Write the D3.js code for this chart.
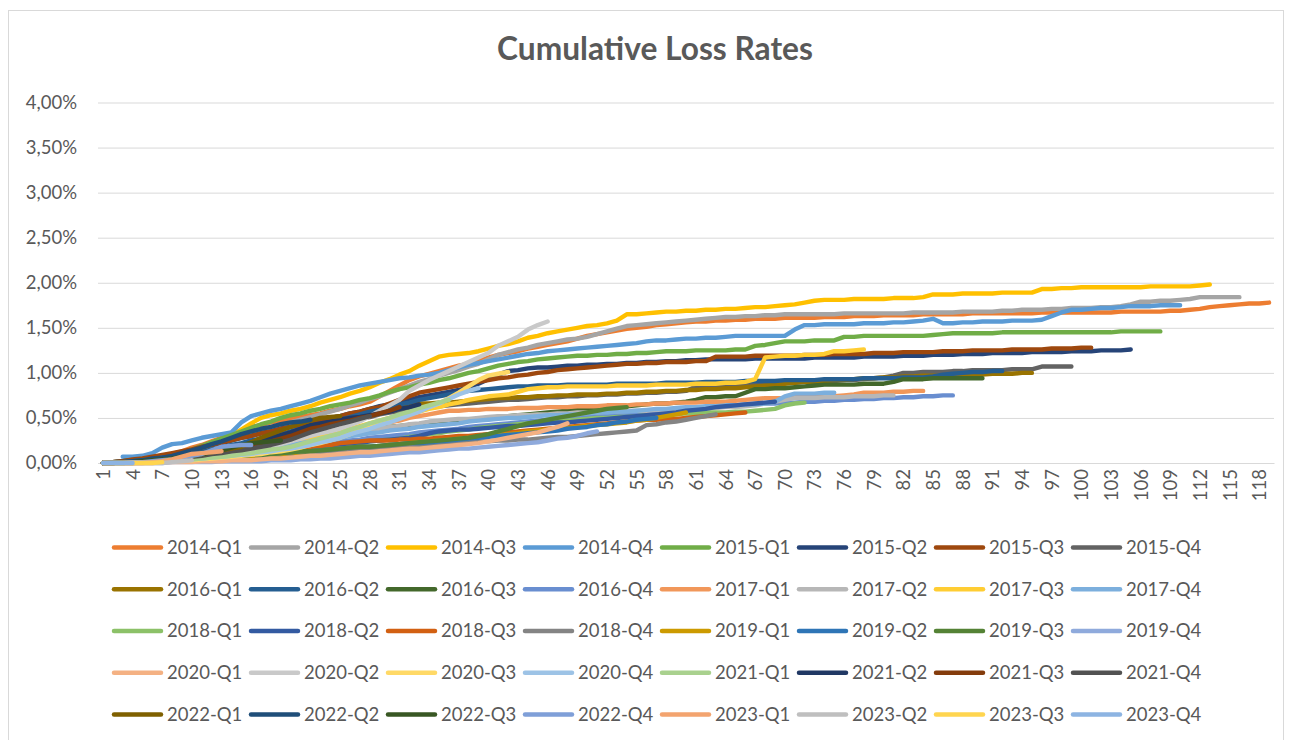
<!DOCTYPE html>
<html><head><meta charset="utf-8">
<script src="https://cdn.jsdelivr.net/npm/d3@7"></script>
<style>
body{margin:0;background:#fff;}
svg{display:block;font-family:Lato,"Open Sans",sans-serif;}
</style></head><body>
<svg id="chart" width="1289" height="740"></svg>
<script>
// ---------- DATA (values in basis points: 1 = 0.01 %) ----------
const categories = Array.from({length:119},(_,i)=>i+1);
const xTickLabels = categories.filter((c,i)=>i%3===0);
const yTicks = [0,0.005,0.01,0.015,0.02,0.025,0.03,0.035,0.04];
const seriesNames = ["2014-Q1","2014-Q2","2014-Q3","2014-Q4","2015-Q1","2015-Q2","2015-Q3","2015-Q4",
"2016-Q1","2016-Q2","2016-Q3","2016-Q4","2017-Q1","2017-Q2","2017-Q3","2017-Q4",
"2018-Q1","2018-Q2","2018-Q3","2018-Q4","2019-Q1","2019-Q2","2019-Q3","2019-Q4",
"2020-Q1","2020-Q2","2020-Q3","2020-Q4","2021-Q1","2021-Q2","2021-Q3","2021-Q4",
"2022-Q1","2022-Q2","2022-Q3","2022-Q4","2023-Q1","2023-Q2","2023-Q3","2023-Q4"];

const v2014Q1=[0,1,2,3,5,6,8,10,13,17,20,24,28,32,36,40,42,45,47,49,51,53,55,58,60,63,65,68,74,80,86,92,96,99,102,105,108,110,113,117,120,122,124,127,129,131,133,135,138,141,143,145,147,149,150,151,153,154,155,156,157,157,158,158,159,159,160,160,160,161,161,161,161,162,162,162,163,163,163,164,164,164,164,165,165,165,165,165,166,166,166,166,166,166,166,167,167,167,167,167,167,167,167,168,168,168,168,168,169,169,170,171,173,174,175,176,177,177,178];
const v2014Q2=[0,1,2,3,4,6,8,10,12,15,18,21,24,27,30,33,36,39,42,45,48,51,54,57,60,64,67,71,74,78,82,86,90,93,97,100,103,107,110,115,120,123,126,128,131,133,135,137,138,140,143,146,149,152,153,154,155,156,157,158,159,160,161,162,162,163,163,164,164,165,165,165,165,165,165,166,166,166,166,166,166,166,167,167,167,167,167,168,168,168,168,169,169,170,170,170,171,171,172,172,172,173,173,174,176,179,179,180,180,181,182,184,184,184,184,184];
const v2014Q3=[0,0,1,2,3,4,6,8,10,12,16,20,25,30,37,44,50,53,55,58,60,63,67,70,73,77,80,84,89,93,98,102,108,113,118,120,121,122,124,127,130,132,135,139,141,144,146,148,150,152,153,155,158,165,165,166,167,168,168,169,169,170,170,171,171,172,173,173,174,175,176,178,180,181,181,181,182,182,182,182,183,183,183,184,187,187,187,188,188,188,188,189,189,189,189,193,193,194,194,195,195,195,195,195,195,195,196,196,196,196,196,197,198];
const v2014Q4=[null,null,7,7,8,11,17,21,22,25,28,30,32,34,45,52,55,58,60,63,66,69,73,77,80,83,86,88,90,92,94,95,97,98,100,103,106,109,111,113,115,117,119,121,122,124,125,126,127,128,129,130,131,132,133,135,136,136,137,138,138,139,139,140,141,141,141,141,141,141,148,153,153,154,154,154,154,155,155,155,156,156,157,158,160,155,155,156,156,157,157,157,158,158,158,159,163,167,170,170,171,172,172,173,174,174,174,175,175,175];
const v2015Q1=[0,1,2,3,4,6,8,10,12,15,19,23,27,31,35,39,43,46,50,53,55,58,60,63,65,67,70,72,75,79,82,84,87,89,92,94,97,100,102,105,108,110,112,113,115,116,117,118,119,119,120,120,121,121,122,122,123,124,124,124,125,125,125,125,126,126,130,131,133,135,135,135,136,136,136,140,140,141,141,141,141,141,141,141,142,143,144,144,144,144,144,145,145,145,145,145,145,145,145,145,145,145,145,146,146,146,146,146];
const v2015Q2=[0,1,2,3,4,6,8,10,12,14,17,20,22,25,28,30,33,35,38,40,42,45,47,50,52,55,57,60,63,65,68,70,73,75,77,79,81,84,88,93,98,102,103,105,106,106,107,108,108,109,109,110,110,111,111,112,112,113,113,114,114,115,115,115,115,115,116,116,116,116,116,116,117,117,117,117,117,118,118,118,118,119,119,119,120,120,120,121,121,121,122,122,122,122,123,123,123,123,124,124,124,125,125,125,126];
const v2015Q3=[0,1,2,4,5,7,9,11,13,15,18,20,23,25,28,30,33,35,38,40,42,45,47,50,52,55,57,60,62,66,70,74,78,80,82,84,86,88,90,92,94,95,97,98,100,101,103,104,105,106,107,108,109,110,110,111,111,112,112,112,113,113,118,118,118,118,119,119,119,119,119,120,120,120,121,121,121,121,122,122,122,123,123,123,123,124,124,124,125,125,125,125,126,126,126,126,127,127,127,128,128];
const v2015Q4=[0,1,1,2,3,4,6,7,9,10,12,14,16,18,20,22,25,27,30,32,35,37,40,42,45,47,49,51,54,56,57,59,60,62,63,64,65,66,67,68,69,70,70,71,72,73,73,74,74,75,75,76,76,77,77,78,78,79,79,80,85,85,86,86,87,87,88,88,89,89,89,90,90,91,91,92,92,93,94,95,97,100,100,101,101,101,102,102,103,103,103,103,104,104,104,107,107,107,107];
const v2016Q1=[0,1,1,2,3,4,5,7,8,10,12,14,16,18,20,22,25,27,30,32,35,37,40,42,45,48,50,53,55,58,61,64,66,66,67,67,68,69,70,71,72,72,73,73,74,74,75,75,76,76,76,77,77,78,78,79,79,80,80,81,81,82,82,83,83,84,85,86,87,88,89,90,90,91,92,92,93,94,94,95,95,96,96,97,97,97,98,98,98,98,99,99,99,100,100];
const v2016Q2=[0,1,1,2,3,4,6,7,9,10,12,15,17,20,22,25,27,30,32,35,38,40,43,45,48,51,54,57,59,62,65,67,70,72,74,76,78,80,81,82,83,84,85,85,86,86,86,87,87,87,87,87,88,88,88,88,88,89,89,89,89,90,90,90,90,91,91,91,91,92,92,92,92,93,93,93,93,94,94,94,94,95,95,95,96,98,99,100,101,101,102,102];
const v2016Q3=[0,0,1,1,2,3,4,5,7,8,9,11,12,14,15,17,19,21,23,25,26,28,29,31,32,34,35,37,38,40,41,42,43,45,46,47,48,48,49,50,51,52,53,54,55,56,57,58,59,60,61,62,62,63,64,65,66,66,67,68,70,73,73,74,74,78,82,82,83,83,84,85,86,87,87,87,87,88,88,88,90,93,93,93,94,94,94,94,94,94];
const v2016Q4=[0,0,1,1,2,3,3,4,5,6,7,8,9,11,12,13,14,15,17,18,19,20,22,23,24,25,26,28,29,30,31,32,34,35,36,37,38,40,41,42,43,44,45,46,47,48,49,50,51,52,53,54,54,55,56,57,58,58,59,60,61,62,62,63,64,65,65,66,66,67,67,68,68,69,69,70,70,71,71,72,72,73,73,74,74,75,75];
const v2017Q1=[0,0,1,1,2,3,4,5,7,8,9,11,12,14,15,17,19,21,23,25,27,29,31,33,35,37,39,41,43,45,47,50,52,54,56,58,58,59,59,60,60,60,61,61,61,62,62,62,63,63,63,64,64,64,65,65,66,66,67,67,67,68,68,68,69,70,71,72,72,72,73,73,73,74,74,75,76,78,78,78,79,79,80,80];
const v2017Q2=[0,0,1,1,2,3,4,5,6,7,8,10,11,13,14,16,17,19,20,22,24,25,27,28,30,32,34,36,38,40,41,43,44,46,47,48,49,49,50,51,52,52,53,53,54,54,55,55,56,56,56,57,57,58,58,58,59,59,60,60,60,61,61,62,62,63,64,66,68,70,72,72,72,73,73,73,74,74,74,75,75];
const v2017Q3=[0,0,1,1,2,3,4,5,7,8,9,11,12,14,15,17,19,21,23,25,27,29,31,33,35,38,41,44,47,50,52,55,57,60,62,65,67,70,72,74,75,76,79,82,83,84,84,85,85,85,85,85,86,86,86,86,87,87,87,87,88,88,88,89,89,90,93,117,118,119,119,120,120,121,124,124,125,126];
const v2017Q4=[0,0,1,1,2,3,3,4,5,6,7,8,10,11,12,14,15,17,18,20,22,23,25,26,28,30,31,33,34,36,37,38,40,41,42,43,44,46,47,48,49,50,50,51,52,53,53,54,54,55,56,56,57,57,58,59,60,60,61,62,62,63,63,64,64,65,65,66,68,74,77,77,77,78,78];
const v2018Q1=[0,0,0,1,1,2,2,3,3,4,5,5,6,7,8,9,10,11,13,14,15,16,18,19,20,21,22,24,25,26,27,29,30,32,33,35,36,37,39,40,41,42,43,44,45,46,47,47,48,49,50,50,51,51,52,53,53,54,54,55,55,56,56,56,57,57,58,59,60,64,66,67];
const v2018Q2=[0,0,0,1,1,2,2,3,3,4,5,5,6,7,8,9,10,11,13,14,15,16,18,19,20,21,22,24,25,26,27,28,30,33,35,36,37,37,38,39,40,41,41,42,43,44,45,45,46,47,48,49,50,51,52,53,54,55,56,58,59,60,62,63,64,65,66,67,68];
const v2018Q3=[0,0,0,1,1,2,2,3,3,4,5,6,7,8,9,10,11,12,14,15,16,18,19,20,22,23,24,25,25,25,26,26,27,27,28,29,30,30,31,32,33,34,35,36,37,38,39,40,41,42,43,44,45,46,47,48,48,49,49,50,51,52,53,54,55,56];
const v2018Q4=[0,0,0,0,1,1,1,2,2,3,3,4,4,5,6,7,7,8,9,10,11,11,12,13,14,15,16,16,17,18,19,19,20,21,21,22,23,23,24,24,25,25,26,26,27,28,29,29,30,31,32,33,34,35,36,42,43,45,46,48,50,52,54];
const v2019Q1=[0,0,0,0,1,1,1,2,2,3,4,4,5,6,7,8,9,9,10,11,12,13,14,15,16,17,18,18,19,20,21,22,23,24,25,26,27,28,29,30,31,32,33,35,36,37,38,39,40,41,42,43,44,45,47,48,50,52,54,56];
const v2019Q2=[0,0,0,1,1,2,2,3,3,4,5,5,6,7,8,9,9,10,11,12,13,13,14,15,16,17,18,18,19,20,21,22,22,23,24,25,26,27,28,29,30,31,32,33,34,35,36,38,39,40,42,43,45,46,48,49,50];
const v2019Q3=[0,0,0,1,1,2,2,3,3,4,5,5,6,7,8,9,9,10,11,12,13,13,14,15,16,17,18,18,19,20,21,22,23,24,25,26,27,28,30,32,35,38,41,44,46,48,50,52,54,56,58,60,61,62];
const v2019Q4=[0,0,0,0,0,0,0,1,1,1,1,1,2,2,2,2,2,3,3,3,4,4,5,5,6,7,8,8,9,10,11,12,12,13,14,15,16,16,17,18,19,20,21,22,23,25,27,28,30,33,35];
const v2020Q1=[0,0,0,0,0,0,1,1,1,1,2,2,2,3,3,3,4,5,5,6,7,8,8,9,10,11,12,12,13,14,15,16,16,17,18,19,20,21,22,24,26,28,30,32,34,37,40,44];
const v2020Q2=[0,0,0,1,1,1,2,3,3,4,5,6,7,8,10,12,15,18,21,24,27,30,33,35,38,42,46,52,58,64,70,80,86,92,97,102,107,112,117,122,130,135,140,148,153,157];
const v2020Q3=[0,0,0,1,1,1,2,2,3,3,4,5,6,7,8,9,10,12,13,15,17,20,22,25,28,32,37,42,45,48,51,55,58,62,66,72,78,85,92,97,99,101];
const v2020Q4=[0,0,0,1,1,2,2,3,3,4,5,6,7,8,9,10,12,13,15,16,18,20,23,25,28,32,35,38,42,45,49,53,57,62,66,71,76,80,83];
const v2021Q1=[0,0,0,1,1,2,2,3,3,4,5,6,7,8,10,11,13,15,16,18,21,24,27,30,33,37,40,44,47,50,54,57,61,64,67,70];
const v2021Q2=[0,0,1,1,2,3,4,5,6,8,10,12,14,16,18,21,25,28,31,34,38,42,44,46,48,50,51,53,55,57,60,62,65];
const v2021Q3=[0,0,1,1,2,3,4,5,6,8,9,11,12,14,16,19,21,24,27,30,34,38,40,43,45,47,50,52,55,58,62];
const v2021Q4=[0,0,1,1,2,3,4,5,6,7,8,10,11,13,14,16,18,20,23,26,30,34,37,40,43,46,49,52];
const v2022Q1=[0,0,1,1,2,3,4,5,6,8,10,12,14,16,18,23,28,32,36,40,44,47,50,51,52];
const v2022Q2=[0,1,1,2,3,5,6,8,11,14,17,21,24,28,32,35,38,40,43,45,46,48];
const v2022Q3=[0,0,1,1,2,3,4,5,7,8,10,12,14,17,20,22,23,24,25];
const v2022Q4=[0,0,0,1,1,2,3,4,6,8,10,14,18,19,20,20];
const v2023Q1=[0,0,0,0,0,1,2,4,7,10,11,12,13];
const v2023Q2=[0,0,0,0,0,0,0,1,2,3];
const v2023Q3=[0,0,0,0,0,0,1];
const v2023Q4=[0,0,0,0];

const seriesValues=[v2014Q1,v2014Q2,v2014Q3,v2014Q4,v2015Q1,v2015Q2,v2015Q3,v2015Q4,
v2016Q1,v2016Q2,v2016Q3,v2016Q4,v2017Q1,v2017Q2,v2017Q3,v2017Q4,
v2018Q1,v2018Q2,v2018Q3,v2018Q4,v2019Q1,v2019Q2,v2019Q3,v2019Q4,
v2020Q1,v2020Q2,v2020Q3,v2020Q4,v2021Q1,v2021Q2,v2021Q3,v2021Q4,
v2022Q1,v2022Q2,v2022Q3,v2022Q4,v2023Q1,v2023Q2,v2023Q3,v2023Q4];

const palette=["#ED7D31","#A5A5A5","#FFC000","#5B9BD5","#70AD47","#264478","#9E480E","#636363",
"#997300","#255E91","#43682B","#698ED0","#F1975A","#B7B7B7","#FFCD33","#7CAFDD",
"#8CC168","#335AA1","#D26012","#848484","#CC9A00","#2E75B6","#548235","#8FAADC",
"#F4B183","#C9C9C9","#FFD966","#9DC3E6","#A9D18E","#203864","#843C0C","#525252",
"#7F6000","#1F4E79","#385723","#7F9FD8","#F3A46F","#BFBFBF","#FFD54F","#8DB4E2"];

// ---------- DRAW ----------
const svg=d3.select("#chart");
const textColor="#595959";
const plot={left:98,right:1274,top:102.5,bottom:463};

svg.append("rect").attr("x",8.5).attr("y",10.5).attr("width",1275).attr("height",760)
  .attr("fill","#fff").attr("stroke","#D9D9D9");

const x=d3.scalePoint().domain(categories).range([plot.left,plot.right]).padding(0.5);
const y=d3.scaleLinear().domain([0,0.04]).range([plot.bottom,plot.top]);
const pct=d3.formatLocale({decimal:",",thousands:".",grouping:[3],currency:["",""]}).format(".2%");

// y axis + gridlines
const gy=svg.append("g").attr("transform",`translate(${plot.left},0)`)
  .call(d3.axisLeft(y).tickValues(yTicks).tickSize(-(plot.right-plot.left)).tickPadding(21).tickFormat(pct));
gy.select(".domain").remove();
gy.selectAll(".tick line").attr("stroke","#D9D9D9").attr("stroke-width",1);
gy.selectAll(".tick text").attr("fill",textColor).style("font-size","18.5px").style("font-family","Lato");

// x axis
const gx=svg.append("g").attr("transform",`translate(0,${plot.bottom})`)
  .call(d3.axisBottom(x).tickValues(xTickLabels).tickSize(0));
gx.select(".domain").attr("stroke","#D9D9D9");
gx.selectAll(".tick text").attr("fill",textColor).style("font-size","18.5px").style("font-family","Lato")
  .attr("transform","rotate(-90)").attr("x",-6).attr("y",0).attr("dy","0.35em").attr("text-anchor","end");

// lines
const line=d3.line().defined(d=>d[1]!=null).x(d=>x(d[0])).y(d=>y(d[1]/10000));
const gl=svg.append("g");
seriesValues.forEach((vals,i)=>{
  gl.append("path").datum(vals.map((v,k)=>[categories[k],v]))
    .attr("d",line).attr("fill","none").attr("stroke",palette[i])
    .attr("stroke-width",4.4).attr("stroke-linejoin","round").attr("stroke-linecap","round");
});

// title
const title=svg.append("text").attr("x",655).attr("y",60).attr("text-anchor","middle")
  .attr("fill",textColor).style("font-family","Lato").style("font-weight","bold").style("font-size","30px")
  .text("Cumulative Loss Rates");
const tw=title.node().getComputedTextLength();
title.style("font-size",(30*316/tw).toFixed(2)+"px");

// legend
const lg=svg.append("g");
seriesNames.forEach((n,i)=>{
  const r=Math.floor(i/8), c=i%8;
  const lx=112+137*c, ly=547.5+41.75*r;
  lg.append("line").attr("x1",lx+2).attr("x2",lx+49).attr("y1",ly).attr("y2",ly)
    .attr("stroke",palette[i]).attr("stroke-width",4.5).attr("stroke-linecap","round");
  lg.append("text").attr("x",lx+55).attr("y",ly).attr("dy","0.35em").attr("fill",textColor)
    .style("font-family","Lato").style("font-size","18.5px").text(n);
});
</script>
</body></html>
